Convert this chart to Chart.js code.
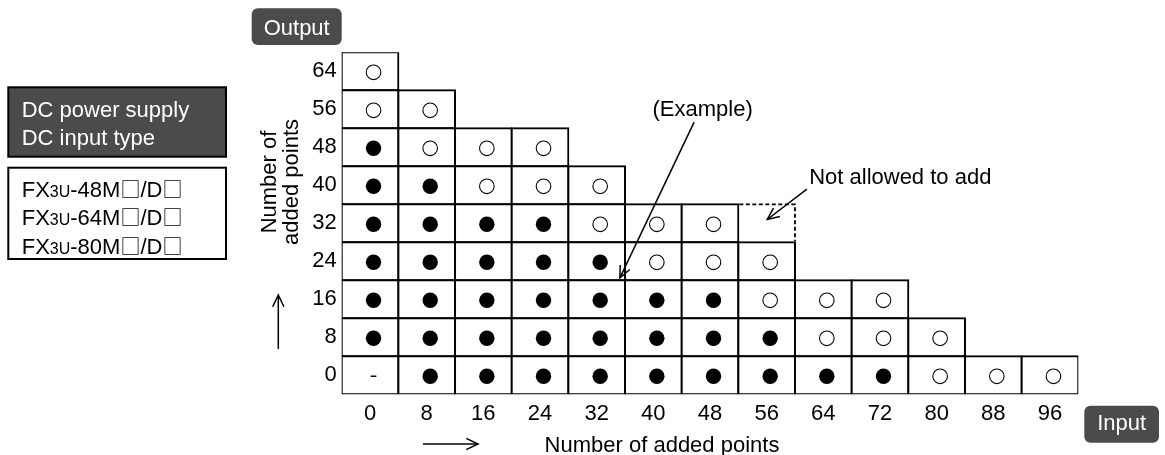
<!DOCTYPE html>
<html><head><meta charset="utf-8">
<script src="https://cdn.jsdelivr.net/npm/chart.js@4/dist/chart.umd.min.js"></script>
<style>html,body{margin:0;padding:0;background:#fff;overflow:hidden}#wrap{position:relative;width:1165px;height:455px}</style>
</head><body><div id="wrap"><canvas id="c" width="1165" height="455"></canvas></div>
<script>
// ---- data ----
const inputPoints = ['0','8','16','24','32','40','48','56','64','72','80','88','96'];
const outputPoints = [0, 8, 16, 24, 32, 40, 48, 56, 64];
// per output row, per input column: '●' allowed (filled), '○' allowed (open), '-' none
const row0  = ['-','●','●','●','●','●','●','●','●','●','○','○','○'];
const row8  = ['●','●','●','●','●','●','●','●','○','○','○'];
const row16 = ['●','●','●','●','●','●','●','○','○','○'];
const row24 = ['●','●','●','●','●','○','○','○'];
const row32 = ['●','●','●','●','○','○','○'];
const row40 = ['●','●','○','○','○'];
const row48 = ['●','○','○','○'];
const row56 = ['○','○'];
const row64 = ['○'];
const rows = [row0, row8, row16, row24, row32, row40, row48, row56, row64];
const notAllowed = [{ input: '56', output: 32 }];
const models = ['48', '64', '80'];
const step = 8;

// ---- build datasets ----
const FONT = "'Liberation Sans', Arial, sans-serif";
const SQFONT = "'Noto Sans CJK JP', 'DejaVu Sans', sans-serif";
Chart.defaults.font.family = FONT;
Chart.defaults.font.size = 22;
Chart.defaults.color = '#000';

const filled = [], open = [], none = [];
rows.forEach((row, k) => row.forEach((s, i) => {
  const p = { x: inputPoints[i], y: outputPoints[k] };
  if (s === '●') filled.push(p); else if (s === '○') open.push(p); else if (s === '-') none.push(p);
}));

const pointBase = { type: 'line', showLine: false, order: 0 };
const datasets = [
  Object.assign({}, pointBase, { label: 'filled', data: filled, pointStyle: 'circle', pointRadius: 7.7, pointBackgroundColor: '#000', pointBorderColor: '#000', pointBorderWidth: 0 }),
  Object.assign({}, pointBase, { label: 'open', data: open, pointStyle: 'circle', pointRadius: 7.3, pointBackgroundColor: '#fff', pointBorderColor: '#000', pointBorderWidth: 1.1 }),
  Object.assign({}, pointBase, { label: 'none', data: none, pointStyle: 'line', pointRadius: 2.8, pointBorderColor: '#000', pointBorderWidth: 1.6 })
];
rows.forEach((row, k) => {
  const o = outputPoints[k];
  datasets.push({
    type: 'bar', label: 'row' + o, order: 2,
    data: inputPoints.map((_, i) => i < row.length ? [o - step / 2, o + step / 2] : null),
    backgroundColor: '#fff', borderColor: '#000', borderWidth: 2, borderSkipped: false,
    inflateAmount: 1, grouped: false, barPercentage: 1, categoryPercentage: 1
  });
});

// ---- helpers ----
function arrow(ctx, x1, y1, x2, y2, len, ang) {
  ctx.beginPath(); ctx.moveTo(x1, y1); ctx.lineTo(x2, y2); ctx.stroke();
  const a = Math.atan2(y2 - y1, x2 - x1);
  ctx.beginPath();
  ctx.moveTo(x2 - len * Math.cos(a - ang), y2 - len * Math.sin(a - ang));
  ctx.lineTo(x2, y2);
  ctx.lineTo(x2 - len * Math.cos(a + ang), y2 - len * Math.sin(a + ang));
  ctx.stroke();
}
function label(ctx, text, x, y, bx, by, bw, bh) {
  ctx.fillStyle = '#4b4b4b';
  ctx.beginPath(); ctx.roundRect(bx, by, bw, bh, 6); ctx.fill();
  ctx.fillStyle = '#fff'; ctx.textAlign = 'center';
  ctx.fillText(text, x, y);
}
function model(ctx, x, y, num) {
  ctx.textAlign = 'left';
  const parts = [['FX', '22px ' + FONT], ['3U', '16px ' + FONT], ['-' + num + 'M', '22px ' + FONT],
                 ['\u25A1', '20px ' + SQFONT], ['/D', '22px ' + FONT], ['\u25A1', '20px ' + SQFONT]];
  let cx = x;
  parts.forEach(([t, f]) => { ctx.font = f; ctx.fillText(t, cx, y); cx += ctx.measureText(t).width; });
  ctx.font = '22px ' + FONT;
}

const annot = {
  id: 'annot',
  afterDatasetsUpdate(chart) {
    chart.data.datasets.forEach((ds, i) => {
      if (ds.type === 'line') chart.getDatasetMeta(i).data.forEach(el => { el.x += 3.5; el.y += 1; });
    });
  },
  afterDraw(chart) {
    const ctx = chart.ctx, xs = chart.scales.x, ys = chart.scales.y;
    const px = v => xs.getPixelForValue(v), py = v => ys.getPixelForValue(v);
    const colW = px(1) - px(0);
    ctx.save();
    ctx.strokeStyle = '#000'; ctx.fillStyle = '#000';
    // not-allowed cell (dashed)
    notAllowed.forEach(c => {
      const i = inputPoints.indexOf(c.input);
      const l = px(i) - colW / 2, r = px(i) + colW / 2, t = py(c.output + step / 2), b = py(c.output - step / 2);
      ctx.lineWidth = 1.8; ctx.setLineDash([4, 2.5]);
      ctx.beginPath(); ctx.moveTo(l + 1, t); ctx.lineTo(r, t); ctx.lineTo(r, b - 1); ctx.stroke();
      ctx.setLineDash([]);
    });
    ctx.font = '22px ' + FONT;
    ctx.textBaseline = 'alphabetic';
    // (Example)
    ctx.textAlign = 'center';
    ctx.fillText('(Example)', px(5.87), py(54.5));
    ctx.lineWidth = 1.5;
    arrow(ctx, px(5.72), py(53.3), px(4.41), py(20.5), 13, 0.42);
    // Not allowed to add
    ctx.textAlign = 'left';
    ctx.fillText('Not allowed to add', px(7.75), py(40.3));
    arrow(ctx, px(7.71), py(39.2), px(7.01), py(32.8), 13, 0.42);
    // axis arrows
    arrow(ctx, 278.3, 349, 278.3, 295, 13, 0.45);
    arrow(ctx, 423, 444, 478, 444, 13, 0.45);
    // x title
    ctx.textAlign = 'center';
    ctx.fillText('Number of added points', 662, 452);
    // y title (rotated)
    ctx.save(); ctx.translate(276, 182); ctx.rotate(-Math.PI / 2);
    ctx.fillText('Number of', 0, 0); ctx.restore();
    ctx.save(); ctx.translate(297.5, 182); ctx.rotate(-Math.PI / 2);
    ctx.fillText('added points', 0, 0); ctx.restore();
    // Output / Input labels
    label(ctx, 'Output', 296.7, 35, 251.7, 8.3, 90, 36.7);
    label(ctx, 'Input', 1121.7, 430, 1084.3, 405.7, 74.7, 37);
    // left boxes
    ctx.fillStyle = '#4b4b4b'; ctx.fillRect(8.3, 87.3, 217.7, 69.4);
    ctx.lineWidth = 2; ctx.strokeRect(8.3, 87.3, 217.7, 69.4);
    ctx.fillStyle = '#fff'; ctx.textAlign = 'left';
    ctx.fillText('DC power supply', 21.7, 116.5);
    ctx.fillText('DC input type', 21.7, 145);
    ctx.strokeRect(8.3, 167.7, 217.7, 91.3);
    ctx.fillStyle = '#000';
    models.forEach((m, k) => model(ctx, 21.7, 196.5 + k * 28.5, m));
    ctx.restore();
  }
};

new Chart(document.getElementById('c'), {
  type: 'bar',
  data: { labels: inputPoints, datasets },
  options: {
    responsive: false, animation: false, events: [],
    layout: { padding: { left: 0, top: 52.3, right: 86.7, bottom: 0 } },
    plugins: { legend: { display: false }, tooltip: { enabled: false } },
    scales: {
      x: {
        type: 'category', offset: true,
        grid: { display: false, drawTicks: false }, border: { display: false },
        ticks: { padding: 6, color: '#000', font: { size: 22 }, maxRotation: 0, autoSkip: false },
        afterFit: s => { s.height = 60.7; }
      },
      y: {
        type: 'linear', min: -step / 2, max: outputPoints[outputPoints.length - 1] + step / 2,
        grid: { display: false, drawTicks: false }, border: { display: false },
        ticks: { padding: 5, color: '#000', font: { size: 22 } },
        afterBuildTicks: s => { s.ticks = outputPoints.map(v => ({ value: v })); },
        afterFit: s => { s.width = 341.7; }
      }
    }
  },
  plugins: [annot]
});
</script></body></html>
